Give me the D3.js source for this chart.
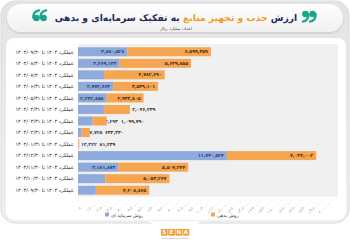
<!DOCTYPE html>
<html>
<head>
<meta charset="utf-8">
<script src="https://cdn.jsdelivr.net/npm/d3@7"></script>
<style>
  html, body { margin: 0; padding: 0; background: #fff; }
  svg { display: block; font-family: "DejaVu Sans", sans-serif; }
</style>
</head>
<body>
<svg id="drawing_region"></svg>
<script>
// categories, top to bottom
const categories = [
    "عملکرد ۱۴۰۴ تا ۱۴۰۴/۰۹/۳۰",
    "عملکرد ۱۴۰۴ تا ۱۴۰۴/۰۸/۳۰",
    "عملکرد ۱۴۰۴ تا ۱۴۰۴/۰۷/۳۰",
    "عملکرد ۱۴۰۴ تا ۱۴۰۴/۰۶/۳۱",
    "عملکرد ۱۴۰۴ تا ۱۴۰۴/۰۵/۳۱",
    "عملکرد ۱۴۰۴ تا ۱۴۰۴/۰۴/۳۱",
    "عملکرد ۱۴۰۴ تا ۱۴۰۴/۰۳/۳۱",
    "عملکرد ۱۴۰۴ تا ۱۴۰۴/۰۲/۳۱",
    "عملکرد ۱۴۰۴ تا ۱۴۰۴/۰۱/۳۱",
    "عملکرد ۱۴۰۳ تا ۱۴۰۳/۱۲/۳۰",
    "عملکرد ۱۴۰۳ تا ۱۴۰۳/۱۱/۳۰",
    "عملکرد ۱۴۰۳ تا ۱۴۰۳/۱۰/۳۰",
    "عملکرد ۱۴۰۳ تا ۱۴۰۳/۰۹/۳۰"
];
// روش سرمایه ای
const capital = [3880528, 3269133, 2055744, 2772663, 2232855, 2042583, 1153693, 297725, 13322, 11740524, 3181873, 2153544, 1403018];
// روش بدهی
const debt = [6599359, 5639855, 4782690, 3539101, 2933805, 2046239, 1099790, 633330, 81239, 7034002, 5507244, 5053267, 4208865];

const seriesNames = ["روش سرمایه ای", "روش بدهی"];
const colors = ["#8faadc", "#f6a550"];
const xTicks = d3.range(0, 20800000, 800000);

const fa = s => String(s).replace(/\d/g, d => "۰۱۲۳۴۵۶۷۸۹"[d]);
const fmt = v => fa(d3.format(",")(v));

const width = 350, height = 250;
const plot = {left: 78, right: 338, top: 46, bottom: 196};

const svg = d3.select("#drawing_region")
    .attr("width", width)
    .attr("height", height);

const defs = svg.append("defs");
const g1 = defs.append("linearGradient").attr("id", "frameGrad")
    .attr("x1", 0).attr("y1", 0).attr("x2", 0).attr("y2", 1);
g1.append("stop").attr("offset", "0%").attr("stop-color", "#e4e4e4");
g1.append("stop").attr("offset", "100%").attr("stop-color", "#efefef");
const g2 = defs.append("linearGradient").attr("id", "pillGrad")
    .attr("x1", 0).attr("y1", 0).attr("x2", 0).attr("y2", 1);
g2.append("stop").attr("offset", "0%").attr("stop-color", "#ffffff");
g2.append("stop").attr("offset", "100%").attr("stop-color", "#f1f1f1");
const sh = defs.append("filter").attr("id", "shadow")
    .attr("x", "-10%").attr("y", "-30%").attr("width", "120%").attr("height", "160%");
sh.append("feDropShadow").attr("dx", 0).attr("dy", 1).attr("stdDeviation", 1.2)
    .attr("flood-color", "#000").attr("flood-opacity", 0.15);

// frame
svg.append("rect").attr("x", 1).attr("y", 1).attr("width", 348).attr("height", 222)
    .attr("rx", 14).attr("fill", "url(#frameGrad)").attr("stroke", "#dadada");
svg.append("rect").attr("x", 6).attr("y", 38).attr("width", 340).attr("height", 182)
    .attr("rx", 8).attr("fill", "#fff");
svg.append("rect").attr("x", 7).attr("y", 4).attr("width", 336).attr("height", 28)
    .attr("rx", 14).attr("fill", "url(#pillGrad)").attr("filter", "url(#shadow)");

// title
const title = svg.append("text")
    .attr("x", 176).attr("y", 20.5)
    .attr("text-anchor", "middle")
    .attr("direction", "rtl")
    .attr("font-size", 9.2)
    .attr("font-weight", "bold")
    .attr("fill", "#1f2a5a");
title.append("tspan").text("ارزش ");
title.append("tspan").attr("fill", "#f39a2c").text("جذب و تجهیز منابع");
title.append("tspan").text(" به تفکیک سرمایه‌ای و بدهی");

svg.append("text")
    .attr("x", 176).attr("y", 29.5)
    .attr("text-anchor", "middle")
    .attr("font-size", 4.2)
    .attr("fill", "#333")
    .text("اعداد: میلیارد ریال");

// quote marks
function quoteMark(cx, cy, flip) {
    const q = svg.append("g")
        .attr("transform", `translate(${cx},${cy})` + (flip ? " rotate(180)" : ""));
    [-3.6, 3.6].forEach(dx => {
        q.append("circle").attr("cx", dx).attr("cy", 2).attr("r", 3.3).attr("fill", "#17a58c");
        q.append("path")
            .attr("d", `M${dx - 3.1},2 Q${dx - 3.4},-4.5 ${dx + 2.6},-5.6`)
            .attr("fill", "none").attr("stroke", "#17a58c").attr("stroke-width", 2.2)
            .attr("stroke-linecap", "round");
    });
}
quoteMark(40, 16, false);
quoteMark(309, 16, true);

// scales
const xscale = d3.scaleLinear()
    .domain([0, 20500000])
    .range([plot.left, plot.right]);

const yscale = d3.scaleBand()
    .domain(categories)
    .range([plot.top, plot.bottom])
    .paddingInner(0.22)
    .paddingOuter(0.11);

svg.append("rect")
    .attr("x", plot.left).attr("y", plot.top - 2)
    .attr("width", plot.right - plot.left).attr("height", plot.bottom - plot.top + 3)
    .attr("fill", "#f0f0f0");

// category labels
svg.append("g")
    .selectAll("text")
    .data(categories)
    .join("text")
    .attr("x", plot.left - 4)
    .attr("y", d => yscale(d) + yscale.bandwidth() / 2)
    .attr("dy", "0.35em")
    .attr("text-anchor", "end")
    .attr("font-size", 5)
    .attr("fill", "#222")
    .text(d => d);

// bars
const rows = categories.map((c, i) => ({cat: c, vals: [capital[i], debt[i]]}));
const barG = svg.append("g");
rows.forEach(r => {
    let x0 = 0;
    let lastLabelEnd = plot.left;
    r.vals.forEach((v, k) => {
        const xa = xscale(x0), xb = xscale(x0 + v);
        barG.append("rect")
            .attr("x", xa).attr("y", yscale(r.cat))
            .attr("width", xb - xa).attr("height", yscale.bandwidth())
            .attr("fill", colors[k]);
        const label = fmt(v);
        const lw = label.length * 2.6;
        let lx, anchor;
        if (xb - xa > lw + 4) {
            lx = xb - 3; anchor = "end";
        } else {
            lx = Math.max(xb + 2, lastLabelEnd + 3); anchor = "start";
        }
        barG.append("text")
            .attr("x", lx)
            .attr("y", yscale(r.cat) + yscale.bandwidth() / 2)
            .attr("dy", "0.35em")
            .attr("text-anchor", anchor)
            .attr("font-size", 4.6)
            .attr("font-weight", "bold")
            .attr("fill", k === 0 ? "#2e3f66" : "#3b2a17")
            .text(label);
        lastLabelEnd = anchor === "end" ? xb : lx + lw;
        x0 += v;
    });
});

// x axis
const xaxis = d3.axisBottom(xscale)
    .tickValues(xTicks)
    .tickSize(0)
    .tickPadding(0)
    .tickFormat(fmt);
const axisG = svg.append("g")
    .attr("transform", `translate(0, ${plot.bottom + 4})`)
    .call(xaxis);
axisG.select(".domain").remove();
axisG.selectAll(".tick text")
    .attr("y", 0)
    .attr("dy", "0.3em")
    .attr("font-size", 4)
    .attr("fill", "#8a8a8a")
    .attr("text-anchor", "end")
    .attr("transform", "rotate(-45)");

// legend
const legend = svg.append("g").attr("transform", "translate(0, 215)");
[[105, 0], [211, 1]].forEach(([x, k]) => {
    legend.append("rect").attr("x", x).attr("y", -2.5).attr("width", 4).attr("height", 4)
        .attr("fill", colors[k]);
    legend.append("text").attr("x", x + 6).attr("y", 0).attr("dy", "0.35em")
        .attr("font-size", 4.6).attr("fill", "#333").text(seriesNames[k]);
});

// logo tab
svg.append("path")
    .attr("d", "M145,221 Q152,221 155,228 Q160,242 175,242 Q190,242 195,228 Q198,221 205,221 Z")
    .attr("fill", "#fff");
const logo = svg.append("g").attr("transform", "translate(161, 229)");
["S", "E", "N", "A"].forEach((ch, i) => {
    logo.append("rect").attr("x", i * 7.2).attr("y", 0).attr("width", 6.6).attr("height", 6.6)
        .attr("fill", "#f39a2c");
    logo.append("text").attr("x", i * 7.2 + 3.3).attr("y", 5.2).attr("text-anchor", "middle")
        .attr("font-size", 5.5).attr("font-weight", "bold").attr("fill", "#fff").text(ch);
});
svg.append("line").attr("x1", 161).attr("x2", 189).attr("y1", 238.5).attr("y2", 238.5)
    .attr("stroke", "#bbb").attr("stroke-width", 0.6);
</script>
</body>
</html>
